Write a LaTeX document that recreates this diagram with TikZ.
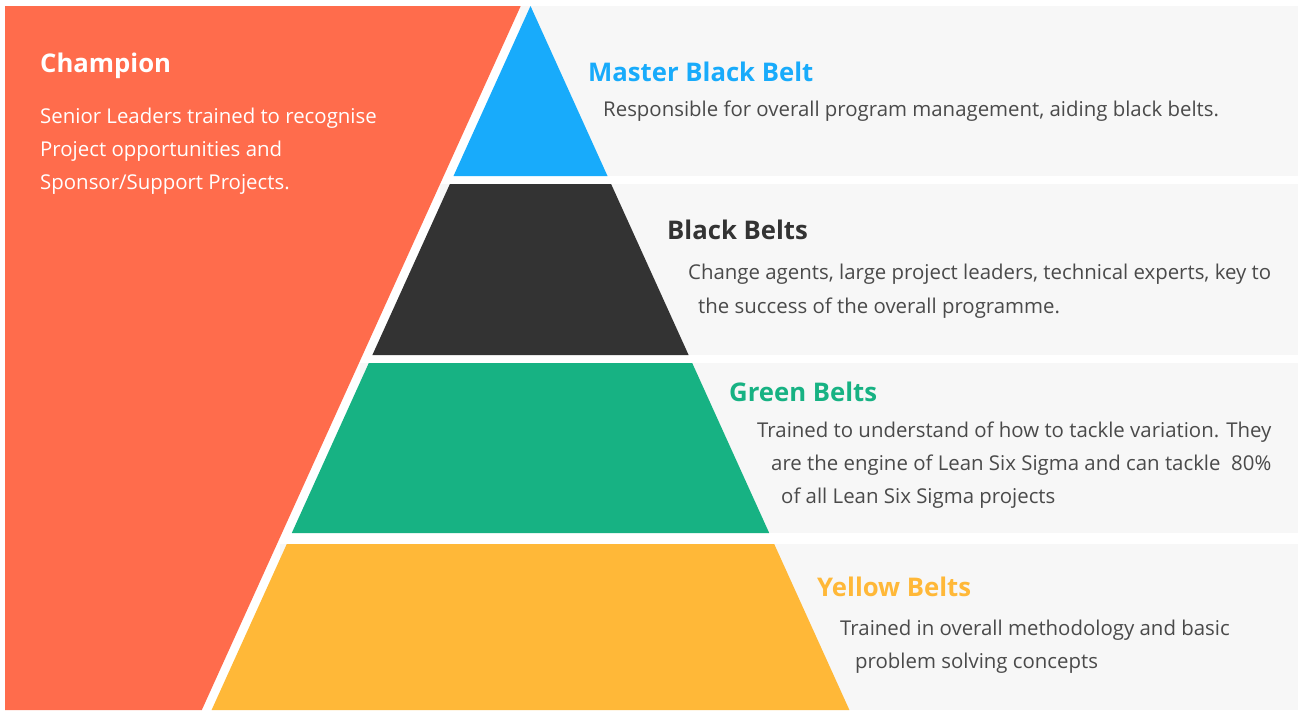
\documentclass[tikz,border=0pt]{standalone}
\usepackage{fontspec}
\setmainfont{Open Sans}
\definecolor{champred}{HTML}{FF6C4C}
\definecolor{mbblue}{HTML}{18ABFB}
\definecolor{bbdark}{HTML}{333333}
\definecolor{gbgreen}{HTML}{17B283}
\definecolor{ybyellow}{HTML}{FFB838}
\definecolor{panelgray}{HTML}{F7F7F7}
\definecolor{bodygray}{HTML}{4A4A4A}
\tikzset{
  titletext/.style={anchor=base west, inner sep=0pt, font=\fontsize{25.7}{30}\selectfont\bfseries},
  bodytext/.style={anchor=base west, inner sep=0pt, text=bodygray, font=\fontsize{20.4}{24}\selectfont},
  champbody/.style={anchor=base west, inner sep=0pt, text=white, font=\fontsize{20.4}{24}\selectfont},
  panel/.style={fill=panelgray, draw=none},
}
\begin{document}
\begin{tikzpicture}[x=1pt,y=-1pt]
\fill[white] (0,0) rectangle (1303,710);
\useasboundingbox (0,0) rectangle (1303,710);
% grey panels
\fill[panel] (520,6) rectangle (1298,176);
\fill[panel] (440,184) rectangle (1298,355);
\fill[panel] (360,363) rectangle (1298,533);
\fill[panel] (280,544) rectangle (1298,710);
% champion shape
\fill[champred] (5,6) -- (520.7,6) -- (201.8,710) -- (5,710) -- cycle;
% pyramid bands
\fill[mbblue] (530.5,6) -- (607.5,176) -- (453.5,176) -- cycle;
\fill[bbdark] (449.9,184) -- (611.1,184) -- (688.6,355) -- (372.4,355) -- cycle;
\fill[gbgreen] (368.8,363) -- (692.2,363) -- (769.2,533) -- (291.8,533) -- cycle;
\fill[ybyellow] (286.8,544) -- (774.2,544) -- (849.4,710) -- (211.6,710) -- cycle;
% champion text
\node[titletext, text=white] (champ) at (40,72) {Champion};
\node[champbody] (champ1) at (40,123) {Senior Leaders trained to recognise};
\node[champbody] (champ2) at (40,156) {Project opportunities and};
\node[champbody] (champ3) at (40,189) {Sponsor/Support Projects.};
% master black belt
\node[titletext, text=mbblue] (mbb) at (588,81.5) {Master Black Belt};
\node[bodytext] (mbb1) at (603,116) {Responsible for overall program management, aiding black belts.};
% black belts
\node[titletext, text=bbdark] (bb) at (667,239) {Black Belts};
\node[bodytext] (bb1) at (688,279) {Change agents, large project leaders, technical experts, key to};
\node[bodytext] (bb2) at (698,313) {the success of the overall programme.};
% green belts
\node[titletext, text=gbgreen] (gb) at (729,401.5) {Green Belts};
\node[bodytext] (gb1) at (757,437) {Trained to understand of how to tackle variation. They};
\node[bodytext] (gb2) at (771,470) {are the engine of Lean Six Sigma and can tackle\ \ 80\%};
\node[bodytext] (gb3) at (781,503) {of all Lean Six Sigma projects};
% yellow belts
\node[titletext, text=ybyellow] (yb) at (817,596) {Yellow Belts};
\node[bodytext] (yb1) at (840,635) {Trained in overall methodology and basic};
\node[bodytext] (yb2) at (855,668) {problem solving concepts};
\end{tikzpicture}
\end{document}
